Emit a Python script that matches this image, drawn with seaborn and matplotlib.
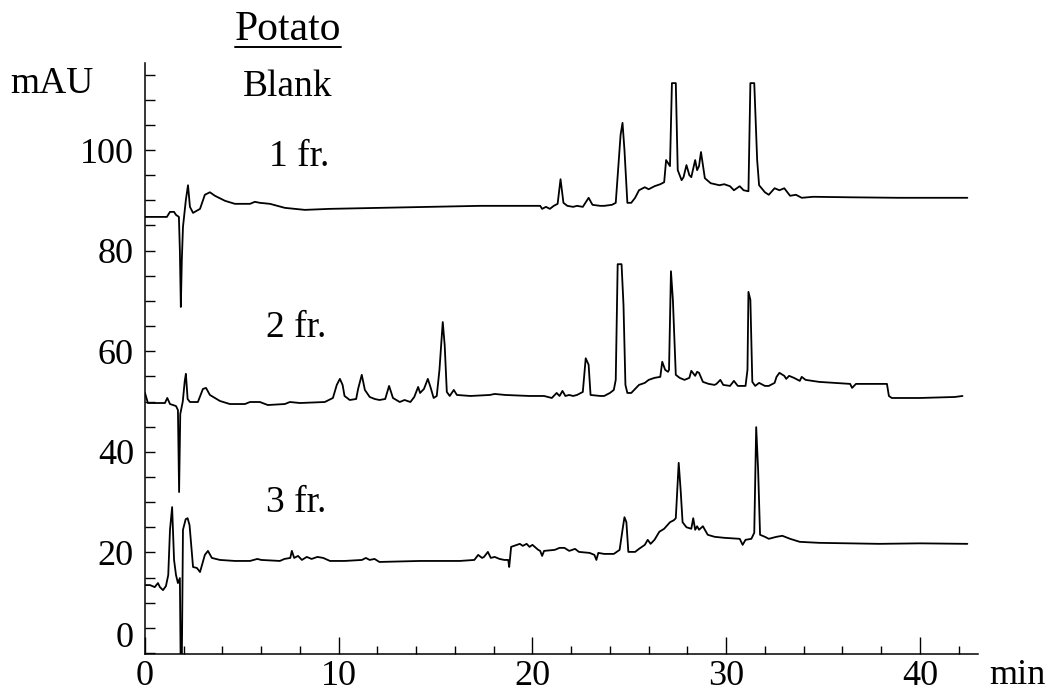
import numpy as np
import pandas as pd
import seaborn as sns
import matplotlib
matplotlib.use("Agg")
import matplotlib.pyplot as plt
from matplotlib.ticker import MultipleLocator, FixedLocator
from matplotlib.transforms import ScaledTranslation
from matplotlib.lines import Line2D

# Chromatograms of potato extract fractions (time in min, absorbance in mAU)
t_fr1 = [0.0, 1.13, 1.29, 1.50, 1.60, 1.75, 1.80, 1.85, 1.90, 1.96, 2.11, 2.22, 2.32, 2.48,
         2.84, 3.09, 3.35, 3.61, 4.13, 4.64, 5.42, 5.67, 5.93, 6.45, 7.22, 8.25, 9.54, 12.1,
         14.7, 17.3, 19.9, 20.4, 20.5, 20.7, 20.9, 21.1, 21.3, 21.45, 21.6, 21.8, 22.1, 22.3,
         22.6, 22.9, 23.1, 23.5, 23.7, 24.1, 24.3, 24.55, 24.65, 24.75, 24.9, 25.1, 25.3, 25.5,
         25.8, 26.0, 26.3, 26.6, 26.8, 26.9, 27.1, 27.2, 27.4, 27.5, 27.7, 27.8, 27.95, 28.1,
         28.2, 28.4, 28.5, 28.6, 28.7, 28.9, 29.2, 29.65, 29.9, 30.2, 30.4, 30.7, 30.9, 31.15,
         31.25, 31.45, 31.6, 31.7, 32.0, 32.2, 32.5, 32.75, 33.0, 33.3, 33.6, 33.9, 34.5, 36.4,
         38.9, 42.45]
mau_fr1 = [86.7, 86.7, 87.7, 87.7, 87.1, 86.7, 80.0, 68.8, 78.0, 84.7, 90.1, 93.0, 88.7, 87.5,
           88.3, 91.1, 91.6, 90.9, 89.9, 89.3, 89.3, 89.7, 89.5, 89.3, 88.5, 88.1, 88.3, 88.5,
           88.7, 88.9, 88.9, 88.9, 88.3, 88.7, 88.3, 88.9, 89.3, 94.2, 89.5, 88.9, 88.7, 88.9,
           88.7, 90.5, 89.1, 88.9, 88.9, 89.1, 89.5, 103.0, 105.4, 100.0, 89.5, 89.5, 90.5, 92.0,
           92.6, 92.2, 92.8, 93.2, 93.6, 98.0, 96.8, 113.3, 113.3, 96.0, 94.0, 94.6, 97.0, 95.0,
           94.6, 98.0, 96.0, 96.8, 99.6, 94.4, 93.4, 93.0, 93.2, 92.8, 92.0, 92.8, 92.0, 91.8,
           113.3, 113.3, 98.0, 93.0, 91.6, 91.1, 92.4, 92.0, 92.4, 90.9, 91.1, 90.5, 90.7, 90.6,
           90.5, 90.5]

t_fr2 = [0.0, 0.15, 1.03, 1.15, 1.29, 1.6, 1.70, 1.76, 1.82, 1.95, 2.05, 2.11, 2.2, 2.32, 2.73,
         2.99, 3.15, 3.35, 3.87, 4.38, 5.16, 5.42, 5.93, 6.34, 7.22, 7.48, 8.0, 9.28, 9.7, 9.9,
         10.06, 10.2, 10.3, 10.57, 10.9, 11.0, 11.19, 11.35, 11.6, 11.86, 12.1, 12.4, 12.6, 12.8,
         13.15, 13.4, 13.7, 13.9, 14.1, 14.2, 14.4, 14.6, 14.75, 14.9, 15.06, 15.2, 15.37, 15.47,
         15.58, 15.73, 15.94, 16.1, 16.8, 17.8, 18.05, 18.6, 19.85, 20.6, 21.0, 21.25, 21.4,
         21.55, 21.7, 21.9, 22.1, 22.3, 22.6, 22.75, 22.9, 23.0, 23.5, 23.7, 24.0, 24.2, 24.3,
         24.4, 24.6, 24.7, 24.8, 24.9, 25.1, 25.5, 25.8, 26.0, 26.3, 26.6, 26.7, 26.85, 27.0,
         27.05, 27.15, 27.25, 27.4, 27.6, 27.85, 28.1, 28.2, 28.4, 28.5, 28.6, 28.8, 29.1, 29.4,
         29.5, 29.7, 29.85, 30.2, 30.4, 30.6, 31.0, 31.1, 31.15, 31.25, 31.3, 31.35, 31.5, 31.7,
         32.0, 32.2, 32.5, 32.6, 32.75, 33.0, 33.1, 33.25, 33.5, 33.8, 33.9, 34.1, 34.8, 36.4,
         36.5, 36.7, 37.9, 38.3, 38.4, 38.55, 40.0, 41.8, 42.2]
mau_fr2 = [51.7, 49.7, 49.7, 50.7, 49.5, 49.1, 48.3, 32.0, 47.5, 50.0, 54.0, 55.5, 50.5, 49.9, 49.9,
           52.5, 52.7, 51.3, 50.1, 49.5, 49.5, 49.9, 49.9, 49.3, 49.5, 49.9, 49.7, 49.9, 50.7, 53.3,
           54.5, 53.3, 51.1, 50.3, 50.5, 52.5, 55.3, 52.3, 50.9, 50.5, 50.3, 50.5, 53.1, 50.7,
           49.9, 50.3, 49.9, 50.9, 52.9, 51.7, 52.5, 54.5, 52.7, 50.7, 51.1, 56.3, 65.8, 61.2,
           51.9, 51.1, 52.3, 51.3, 51.1, 51.3, 51.5, 51.3, 51.1, 51.1, 50.7, 51.7, 51.1,
           52.1, 51.1, 51.3, 51.1, 51.3, 51.9, 58.6, 57.3, 51.3, 51.1, 51.1, 51.7, 52.3, 54.3,
           77.3, 77.3, 69.2, 53.3, 51.7, 51.7, 53.3, 53.7, 54.3, 54.7, 54.9, 57.9, 56.3, 55.9,
           56.3, 75.9, 70.2, 55.3, 54.7, 54.3, 54.7, 56.1, 55.1, 55.9, 55.7, 53.9, 53.5, 53.3,
           53.5, 54.3, 53.3, 53.1, 54.1, 53.1, 53.1, 56.3, 71.8, 70.2, 61.6, 53.9, 53.1, 53.7,
           53.1, 53.1, 53.7, 54.9, 55.7, 55.1, 54.5, 55.1, 54.7, 54.1, 54.9, 54.3, 53.9, 53.5,
           52.7, 53.5, 53.5, 53.5, 51.1, 50.7, 50.7, 50.9, 51.1]

t_fr3 = [0.0, 0.26, 0.5, 0.67, 0.77, 0.93, 1.08, 1.2, 1.29, 1.4, 1.5, 1.6, 1.7, 1.8, 1.84, 1.9,
         1.96, 2.1, 2.2, 2.3, 2.48, 2.68, 2.84, 2.99, 3.09, 3.25, 3.45, 3.87, 4.64, 5.42, 5.8,
         6.0, 6.96, 7.2, 7.5, 7.58, 7.7, 7.9, 8.1, 8.35, 8.6, 8.9, 9.2, 9.55, 10.3, 11.2, 11.4,
         11.6, 11.85, 12.1, 14.2, 16.25, 17.0, 17.2, 17.4, 17.5, 17.7, 17.85, 18.05, 18.3, 18.55,
         18.75, 18.8, 18.9, 19.2, 19.35, 19.5, 19.7, 19.85, 20.0, 20.3, 20.4, 20.5, 20.6, 21.15,
         21.4, 21.65, 21.9, 22.2, 22.4, 22.95, 23.2, 23.3, 23.4, 23.7, 24.2, 24.5, 24.65, 24.75,
         24.85, 24.95, 25.3, 25.5, 25.8, 25.95, 26.1, 26.3, 26.55, 26.8, 27.1, 27.3, 27.4, 27.55,
         27.65, 27.75, 27.95, 28.2, 28.3, 28.4, 28.5, 28.6, 28.8, 28.9, 29.05, 29.4, 29.9, 30.7,
         30.85, 31.0, 31.3, 31.45, 31.55, 31.65, 31.75, 32.0, 32.2, 32.6, 32.9, 33.3, 33.8, 34.8,
         36.4, 37.9, 40.0, 42.45]
mau_fr3 = [13.5, 13.5, 13.1, 13.9, 13.1, 12.5, 13.3, 15.5, 24.5, 29.0, 18.5, 15.5, 13.9, 14.9, -2.0, -2.0,
           24.5, 26.6, 26.8, 25.4, 17.1, 16.9, 16.1, 18.1, 19.5, 20.3, 18.9, 18.5, 18.3, 18.3, 18.7,
           18.5, 18.3, 18.7, 18.9, 20.3, 18.9, 19.3, 18.5, 19.1, 18.7, 19.1, 18.9, 18.3, 18.3, 18.5, 18.9,
           18.5, 18.7, 18.1, 18.3, 18.3, 18.5, 19.5, 18.9, 19.1, 20.1, 18.9, 19.1, 18.7, 18.5,
           18.5, 17.1, 21.1, 21.5, 21.7, 21.3, 21.7, 21.1, 21.5, 20.5, 20.3, 19.3, 20.3, 20.5,
           20.9, 20.9, 20.3, 20.7, 20.1, 19.9, 19.5, 18.5, 19.9, 19.7, 19.7, 20.5, 24.5, 27.0,
           26.0, 20.1, 20.1, 20.7, 21.5, 22.5, 21.7, 22.5, 24.1, 24.7, 26.0, 26.4, 26.8, 37.8,
           32.4, 26.0, 25.0, 24.7, 26.8, 24.5, 25.2, 24.5, 25.2, 24.5, 23.5, 23.1, 22.9, 22.7,
           21.5, 22.5, 22.7, 23.9, 44.9, 36.4, 23.5, 23.1, 22.7, 23.1, 23.3, 22.7, 22.1, 21.9,
           21.8, 21.7, 21.8, 21.7]

fraction_labels = ["1 fr.", "2 fr.", "3 fr."]
y_tick_values = [0, 20, 40, 60, 80, 100]
x_tick_values = [0, 10, 20, 30, 40]

sns.set_theme(style="ticks")
plt.rcParams["font.family"] = ["Liberation Serif", "DejaVu Serif"]
plt.rcParams["axes.linewidth"] = 1.1

W, H = 1051, 697
fig = plt.figure(figsize=(W / 100, H / 100), dpi=100)
fig.patch.set_facecolor("white")
ax = fig.add_axes([145 / W, 1 - 654 / H, 833 / W, 591 / H])
ax.set_facecolor("white")

frames = []
for name, t, v in zip(fraction_labels, [t_fr1, t_fr2, t_fr3], [mau_fr1, mau_fr2, mau_fr3]):
    frames.append(pd.DataFrame({"time": t, "mAU": v, "fraction": name}))
df = pd.concat(frames, ignore_index=True)

for name in fraction_labels:
    sub = df[df["fraction"] == name]
    sns.lineplot(data=sub, x="time", y="mAU", ax=ax, color="black", linewidth=1.3,
                 estimator=None, sort=False, legend=False)

ax.set_xlim(0, 43)
ax.set_ylim(-0.2, 117.3)
ax.set_xlabel("")
ax.set_ylabel("")
sns.despine(ax=ax)

ax.yaxis.set_major_locator(FixedLocator(y_tick_values))
ax.yaxis.set_minor_locator(MultipleLocator(5))
ax.xaxis.set_major_locator(FixedLocator(x_tick_values))
ax.xaxis.set_minor_locator(MultipleLocator(2))
ax.set_yticklabels([str(v) for v in y_tick_values])
ax.set_xticklabels([str(v) for v in x_tick_values])

ax.tick_params(axis="y", which="both", direction="in", length=7, width=1.0,
               color="black", pad=8, labelsize=26, labelcolor="black")
ax.tick_params(axis="x", which="major", direction="in", length=12, width=1.0,
               color="black", pad=4, labelsize=26, labelcolor="black")
ax.tick_params(axis="x", which="minor", direction="in", length=6, width=1.0, color="black")
ax.spines["left"].set_color("black")
ax.spines["bottom"].set_color("black")

# lift the zero label on the y axis clear of the x labels
zero_lbl = ax.yaxis.get_major_ticks()[0].label1
zero_lbl.set_transform(zero_lbl.get_transform() + ScaledTranslation(0, 0.18, fig.dpi_scale_trans))

txt_kw = dict(fontsize=27, color="black")
fig.text(10 / W, 1 - 93 / H, "mAU", ha="left", va="baseline", **txt_kw)
fig.text(989 / W, 1 - 676 / H, "min", ha="left", va="center", fontsize=26, color="black")
fig.text(288 / W, 1 - 96 / H, "Blank", ha="center", va="baseline", **txt_kw)
for label, (cx, by) in zip(fraction_labels, [(299, 166), (296, 337), (296, 512)]):
    fig.text(cx / W, 1 - by / H, label, ha="center", va="baseline", **txt_kw)

title = fig.text(288 / W, 1 - 40 / H, "Potato", ha="center", va="baseline", fontsize=30, color="black")
fig.canvas.draw()
bb = title.get_window_extent()
underline_y = (H - 47) / H
fig.add_artist(Line2D([bb.x0 / W, bb.x1 / W], [underline_y, underline_y],
                      transform=fig.transFigure, color="black", linewidth=1.4))

fig.savefig("out.png", dpi=100, facecolor="white")
